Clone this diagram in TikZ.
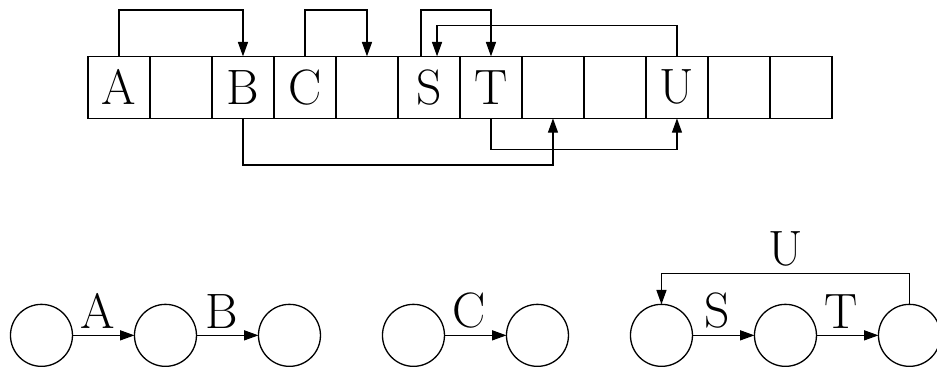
\documentclass[tikz,border=0pt]{standalone}
\usetikzlibrary{arrows.meta}
\begin{document}
\begin{tikzpicture}[
        cell/.style={rectangle, draw, minimum size=1cm, inner sep=0pt, outer sep=0pt, font=\fontsize{22.8}{27}\selectfont},
        vertex/.style={circle, draw, minimum size=1cm, inner sep=0pt, outer sep=0pt},
        lbl/.style={above, inner sep=3pt, font=\fontsize{22.8}{27}\selectfont},
        arrow/.style={-{Triangle[length=6.6pt, width=4.6pt]}},
        line width=0.6pt
    ]
    \useasboundingbox (-1.919,-4.510) rectangle (13.194,1.409);

    % memory cells
    \node[cell] (c0) at (0,0) {A};
    \node[cell] (c1) at (1,0) {};
    \node[cell] (c2) at (2,0) {B};
    \node[cell] (c3) at (3,0) {C};
    \node[cell] (c4) at (4,0) {};
    \node[cell] (c5) at (5,0) {S};
    \node[cell] (c6) at (6,0) {T};
    \node[cell] (c7) at (7,0) {};
    \node[cell] (c8) at (8,0) {};
    \node[cell] (c9) at (9,0) {U};
    \node[cell] (c10) at (10,0) {};
    \node[cell] (c11) at (11,0) {};

    \draw[arrow] (c0.north) -- ++(0,0.75) -| (c2.north);
    \draw[arrow] (c3.north) -- ++(0,0.75) -| (c4.north);
    \draw[arrow] ([xshift=-0.13cm]c5.north) -- ++(0,0.75) -| (c6.north);
    \draw[arrow] (c9.north) -- ++(0,0.5) -| ([xshift=0.13cm]c5.north);
    \draw[arrow] (c2.south) -- ++(0,-0.75) -| (c7.south);
    \draw[arrow] (c6.south) -- ++(0,-0.5) -| (c9.south);

    % chains
    \node[vertex] (l1) at (-1.25,-4) {};
    \node[vertex] (l2) at (0.75,-4) {};
    \node[vertex] (l3) at (2.75,-4) {};
    \node[vertex] (m1) at (4.75,-4) {};
    \node[vertex] (m2) at (6.75,-4) {};
    \node[vertex] (r1) at (8.75,-4) {};
    \node[vertex] (r2) at (10.75,-4) {};
    \node[vertex] (r3) at (12.75,-4) {};

    \draw[arrow] (l1) -- node[lbl, pos=0.4] {A} (l2);
    \draw[arrow] (l2) -- node[lbl, pos=0.4] {B} (l3);
    \draw[arrow] (m1) -- node[lbl, pos=0.4] {C} (m2);
    \draw[arrow] (r1) -- node[lbl, pos=0.4] {S} (r2);
    \draw[arrow] (r2) -- node[lbl, pos=0.4] {T} (r3);
    \draw[arrow] (r3.north) -- ++(0,0.5) -| node[lbl, pos=0.25] {U} (r1.north);

\end{tikzpicture}
\end{document}
